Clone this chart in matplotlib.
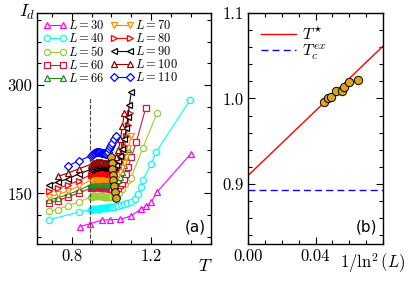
import numpy as np
import matplotlib
matplotlib.use("Agg")
import matplotlib.pyplot as plt
from matplotlib.ticker import MultipleLocator, FixedLocator, FormatStrFormatter

plt.rcParams['font.family'] = 'serif'
plt.rcParams['font.serif'] = ['cmr10']
plt.rcParams['mathtext.fontset'] = 'cm'
plt.rcParams['axes.formatter.use_mathtext'] = True

# ---- data, panel (a): I_d vs T for each L ----
# densely sampled window around T_c (0.895 ... 1.000)
T_band = [0.895, 0.900, 0.905, 0.910, 0.915, 0.920, 0.925, 0.930, 0.935, 0.940, 0.945,
          0.950, 0.955, 0.960, 0.965, 0.970, 0.975, 0.980, 0.985, 0.990, 0.995, 1.000]

T_30 = [0.84, 0.89, 0.95, 0.995, 1.045, 1.10, 1.15, 1.175, 1.20, 1.23, 1.40]
I_30 = [104, 107.5, 113, 113.5, 114, 119, 128.5, 132, 138, 152, 205]

T_40_low = [0.685, 0.835]
I_40_low = [113.5, 124]
I_40_band = [127.5, 127.8, 128, 128.2, 128.5, 128.5, 128.7, 129, 129, 129.2, 129.5,
             129.5, 129.5, 129.7, 130, 130, 130, 130.2, 130.5, 130.5, 130.7, 131]
T_40_high = [1.005, 1.015, 1.025, 1.035, 1.05, 1.065, 1.08, 1.10, 1.117, 1.133, 1.15, 1.158, 1.20, 1.225, 1.395]
I_40_high = [131, 131.5, 132, 132.5, 133.5, 135, 136.5, 138.5, 142.5, 149.5, 159, 168, 191, 207, 279]

T_50_low = [0.685, 0.73, 0.78, 0.835]
I_50_low = [125.5, 127.5, 133, 138]
I_50_band = [145, 145.5, 146, 146.2, 146.5, 146.5, 146.5, 146.2, 146, 146, 146,
             145.8, 145.5, 145.2, 145, 145, 145, 144.8, 144.5, 144.5, 144.5, 144.5]
T_50_high = [1.005, 1.015, 1.022, 1.03, 1.04, 1.052, 1.067, 1.083, 1.10, 1.158, 1.229]
I_50_high = [144.5, 144.5, 144.5, 146, 150, 156, 163, 168, 172, 213, 261]

T_60_low = [0.685, 0.73, 0.78, 0.835]
I_60_low = [137, 140, 145, 150.5]
I_60_band = [157, 157.5, 158, 158.2, 158.5, 158.5, 158.5, 158.5, 158.5, 158.2, 158,
             158, 158, 157.8, 157.5, 157.2, 157, 157, 157, 156.8, 156.5, 156.5]
T_60_high = [1.005, 1.015, 1.025, 1.035, 1.045, 1.055, 1.065, 1.075, 1.083, 1.10, 1.125, 1.172]
I_60_high = [156.5, 156.5, 157, 158, 161, 165, 170, 177, 186, 200, 221, 268]

T_66_low = [0.685, 0.73, 0.78, 0.835]
I_66_low = [141, 144, 148.5, 154]
I_66_band = [162, 162.5, 163, 163.2, 163.5, 163.8, 164, 164, 164, 163.8, 163.5,
             163.5, 163.5, 163.2, 163, 163, 163, 162.8, 162.5, 162.5, 162.5, 162.5]
T_66_high = [1.005, 1.015, 1.025, 1.035, 1.045, 1.055, 1.065, 1.075, 1.085]
I_66_high = [162.5, 163, 165, 168, 173, 180, 189, 200, 212]

T_70_low = [0.685, 0.73, 0.78, 0.835]
I_70_low = [145, 148.5, 153, 160]
I_70_band = [168, 168.5, 169, 169.5, 170, 170.2, 170.5, 170.5, 170.5, 170.2, 170,
             170, 170, 170, 170, 169.8, 169.5, 169.5, 169.5, 169.5, 169.5, 169.5]
T_70_high = [1.005, 1.015, 1.025, 1.035, 1.045, 1.055, 1.065, 1.075, 1.085, 1.10]
I_70_high = [169.5, 170, 172, 175, 179, 185, 192, 201, 213, 230]

T_80_low = [0.685, 0.73, 0.78, 0.835]
I_80_low = [153, 157, 162, 167.5]
I_80_band = [176, 176.5, 177, 177.5, 178, 178.2, 178.5, 178.5, 178.5, 178.5, 178.5,
             178.2, 178, 178, 178, 178, 178, 177.8, 177.5, 177.5, 177.5, 177.8]
T_80_high = [1.005, 1.015, 1.025, 1.035, 1.045, 1.055, 1.065, 1.075, 1.083, 1.092]
I_80_high = [178, 179, 182, 187, 194, 203, 215, 229, 245, 261]

T_90_low = [0.685, 0.73, 0.78, 0.835]
I_90_low = [162, 166, 170, 177]
I_90_band = [183, 183.8, 184.5, 185, 185.5, 185.8, 186, 186, 186, 186, 186,
             185.8, 185.5, 185.5, 185.5, 185.2, 185, 185, 185, 185, 185, 185.2]
T_90_high = [1.005, 1.015, 1.025, 1.035, 1.045, 1.055, 1.065, 1.075, 1.083, 1.09, 1.10]
I_90_high = [185.5, 187, 190, 195, 202, 212, 225, 240, 256, 272, 291]

T_100_low = [0.73, 0.78, 0.835]
I_100_low = [173.5, 178, 184]
I_100_band = [190, 190.8, 191.5, 192, 192.5, 192.8, 193, 193, 193, 193, 193,
              192.8, 192.5, 192.2, 192, 192, 192, 192, 192, 192, 192, 192.2]
T_100_high = [1.005, 1.015, 1.025, 1.035, 1.045, 1.055, 1.065]
I_100_high = [192.5, 195, 200, 210, 225, 243, 262]

T_110_low = [0.78, 0.835]
I_110_low = [188, 195]
I_110_band = [202, 203.5, 205, 206, 206.5, 207, 207, 207, 207, 206.8, 206.5,
              206.2, 206, 205.8, 205.5, 205.2, 205, 205.5, 208, 211, 214, 217]
T_110_high = [1.005, 1.015, 1.025]
I_110_high = [220, 225, 230]

# ---- data, panel (b): T* vs 1/ln^2(L) ----
L_star = [110, 100, 90, 80, 70, 66, 60, 50]
T_star = [0.996, 1.001, 1.002, 1.009, 1.0085, 1.013, 1.019, 1.022]
I_star = [200, 192, 184, 176, 168, 160, 152, 144]
fit_T0 = 0.91
fit_slope = 1.89
Tc_ex = 0.893

series = [
    (30, T_30, I_30, '#ff00ff', '^'),
    (40, T_40_low + T_band + T_40_high, I_40_low + I_40_band + I_40_high, '#00ffff', 'o'),
    (50, T_50_low + T_band + T_50_high, I_50_low + I_50_band + I_50_high, '#9acd32', 'o'),
    (60, T_60_low + T_band + T_60_high, I_60_low + I_60_band + I_60_high, '#dc143c', 's'),
    (66, T_66_low + T_band + T_66_high, I_66_low + I_66_band + I_66_high, '#228b22', '^'),
    (70, T_70_low + T_band + T_70_high, I_70_low + I_70_band + I_70_high, '#ff8c00', 'v'),
    (80, T_80_low + T_band + T_80_high, I_80_low + I_80_band + I_80_high, '#ff0000', '>'),
    (90, T_90_low + T_band + T_90_high, I_90_low + I_90_band + I_90_high, '#000000', '<'),
    (100, T_100_low + T_band + T_100_high, I_100_low + I_100_band + I_100_high, '#8b0000', '^'),
    (110, T_110_low + T_band + T_110_high, I_110_low + I_110_band + I_110_high, '#0000ff', 'D'),
]

fig = plt.figure(figsize=(4.15, 2.81), dpi=100)
ax1 = fig.add_axes([0.089, 0.132, 0.419, 0.822])
ax2 = fig.add_axes([0.598, 0.132, 0.325, 0.822])

for L, T, I, c, m in series:
    ms = 3.8 if m == 'D' else 4.5
    ax1.plot(T, I, color=c, marker=m, ms=ms, mfc='white', mec=c, mew=0.9,
             lw=0.8, label=r'$L = %d$' % L)

ax1.plot(T_star, I_star, 'o', color='#daa520', mec='black', mew=0.7, ms=5.5, zorder=5)
ax1.vlines(Tc_ex, 80, 282, colors='#444444', linestyles='--', lw=0.8)

ax1.set_xlim(0.625, 1.5)
ax1.set_ylim(80, 400)
ax1.xaxis.set_major_locator(FixedLocator([0.8, 1.2]))
ax1.xaxis.set_minor_locator(MultipleLocator(0.1))
ax1.yaxis.set_major_locator(FixedLocator([150, 300]))
ax1.yaxis.set_minor_locator(MultipleLocator(30))
ax1.xaxis.set_major_formatter(FormatStrFormatter('%.1f'))
ax1.yaxis.set_major_formatter(FormatStrFormatter('%d'))

ax1.legend(loc='upper left', ncol=2, frameon=False, fontsize=9, numpoints=2,
           handlelength=1.9, handletextpad=0.1, columnspacing=0.4,
           labelspacing=0.0, borderaxespad=0.3, borderpad=0.2)
ax1.text(0.97, 0.04, '(a)', transform=ax1.transAxes, ha='right', va='bottom',
         fontsize=11, family='DejaVu Sans')

# panel (b)
x_star = [1.0 / np.log(L) ** 2 for L in L_star]
x_fit = np.array([0.0, 0.08])
ax2.plot(x_fit, fit_T0 + fit_slope * x_fit, color='red', lw=1.0, label=r'$T^{\star}$')
ax2.axhline(Tc_ex, color='blue', ls='--', lw=1.0, dashes=(5, 3), label=r'$T_c^{ex}$')
ax2.plot(x_star, T_star, 'o', color='#daa520', mec='black', mew=0.7, ms=6, zorder=5)

ax2.set_xlim(0, 0.08)
ax2.set_ylim(0.83, 1.1)
ax2.xaxis.set_major_locator(FixedLocator([0.0, 0.04]))
ax2.xaxis.set_minor_locator(MultipleLocator(0.01))
ax2.yaxis.set_major_locator(FixedLocator([0.9, 1.0, 1.1]))
ax2.yaxis.set_minor_locator(MultipleLocator(0.02))
ax2.xaxis.set_major_formatter(FormatStrFormatter('%.2f'))
ax2.yaxis.set_major_formatter(FormatStrFormatter('%.1f'))
ax2.legend(loc='upper left', frameon=False, fontsize=11.5, handlelength=2.2,
           handletextpad=0.4, labelspacing=0.0, borderaxespad=0.4)
ax2.text(0.96, 0.04, '(b)', transform=ax2.transAxes, ha='right', va='bottom',
         fontsize=11, family='DejaVu Sans')

for ax in (ax1, ax2):
    ax.tick_params(which='both', direction='in', top=True, right=True, labelsize=12)
    ax.tick_params(which='major', length=5, width=0.8)
    ax.tick_params(which='minor', length=3, width=0.8)
    for s in ax.spines.values():
        s.set_linewidth(1.0)

fig.text(27 / 415, 1 - 12 / 281, r'$I_d$', fontsize=13, ha='center', va='center')
fig.text(205 / 415, 1 - 266 / 281, r'$T$', fontsize=13, ha='center', va='center')
fig.text(373 / 415, 1 - 263 / 281, r'$1/\ln^2(L)$', fontsize=12, ha='center', va='center')

fig.savefig('out.png', dpi=100)
